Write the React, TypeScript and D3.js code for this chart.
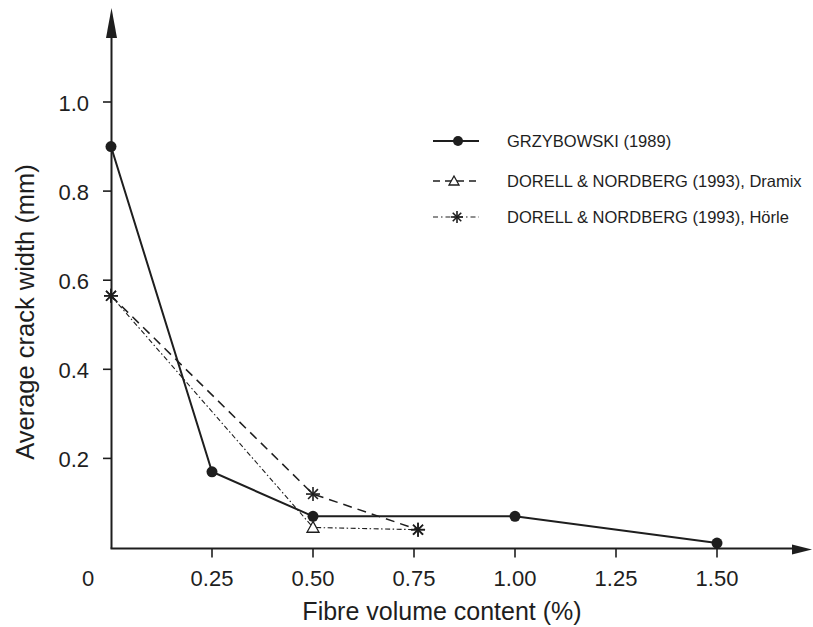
import React from "react";
import * as d3 from "d3";

// ---- data ----
const grzX = [0, 0.25, 0.5, 1.0, 1.5];
const grzY = [0.9, 0.17, 0.07, 0.07, 0.01];

const dramixX = [0, 0.5, 0.76];
const dramixY = [0.565, 0.12, 0.04];
const dramixMarks = ["star", "star", "star"];

const horleX = [0, 0.5, 0.76];
const horleY = [0.565, 0.045, 0.04];
const horleMarks = ["star", "triangle", "star"];

const xTicks = [0.25, 0.5, 0.75, 1.0, 1.25, 1.5];
const xTickLabels = ["0.25", "0.50", "0.75", "1.00", "1.25", "1.50"];
const yTicks = [0.2, 0.4, 0.6, 0.8, 1.0];
const yTickLabels = ["0.2", "0.4", "0.6", "0.8", "1.0"];

const legendLabels = [
  "GRZYBOWSKI (1989)",
  "DORELL & NORDBERG (1993), Dramix",
  "DORELL & NORDBERG (1993), Hörle",
];

const FONT = "'Liberation Sans', Arial, Helvetica, sans-serif";
const INK = "#1e1e1e";

function Star({ cx, cy, r = 7 }: { cx: number; cy: number; r?: number }) {
  const angles = [0, 45, 90, 135];
  return (
    <g stroke={INK} strokeWidth={1.6}>
      {angles.map((a) => {
        const rad = (a * Math.PI) / 180;
        const dx = Math.cos(rad) * r;
        const dy = Math.sin(rad) * r;
        return <line key={a} x1={cx - dx} y1={cy - dy} x2={cx + dx} y2={cy + dy} />;
      })}
    </g>
  );
}

function Triangle({ cx, cy, s = 6 }: { cx: number; cy: number; s?: number }) {
  const pts = `${cx},${cy - s} ${cx - s},${cy + s * 0.8} ${cx + s},${cy + s * 0.8}`;
  return <polygon points={pts} fill="white" stroke={INK} strokeWidth={1.3} />;
}

function Mark({ type, cx, cy }: { type: string; cx: number; cy: number }) {
  if (type === "star") return <Star cx={cx} cy={cy} />;
  if (type === "triangle") return <Triangle cx={cx} cy={cy} />;
  return <circle cx={cx} cy={cy} r={5.5} fill={INK} />;
}

export default function App() {
  const x = d3.scaleLinear().domain([0, 1.5]).range([111, 717]);
  const y = d3.scaleLinear().domain([0, 1]).range([547.5, 102]);
  const axisY = 548.5;
  const axisX = 111.5;

  const line = d3
    .line<[number, number]>()
    .x((d) => x(d[0]))
    .y((d) => y(d[1]));

  const grz: [number, number][] = grzX.map((v, i) => [v, grzY[i]]);
  const dramix: [number, number][] = dramixX.map((v, i) => [v, dramixY[i]]);
  const horle: [number, number][] = horleX.map((v, i) => [v, horleY[i]]);

  const legendRows = [
    { y: 141, dash: undefined as string | undefined, w: 2, mark: "circle" },
    { y: 181, dash: "7,5", w: 1.4, mark: "triangle" },
    { y: 217, dash: "5,3,1.5,3", w: 1.2, mark: "star" },
  ];

  return (
    <svg
      width={813}
      height={627}
      style={{ position: "absolute", left: 0, top: 0, background: "white" }}
      fontFamily={FONT}
    >
      <rect x={0} y={0} width={813} height={627} fill="white" />

      {/* axes */}
      <line x1={axisX} y1={axisY} x2={axisX} y2={30} stroke={INK} strokeWidth={2} />
      <polygon points={`${axisX},8 ${axisX - 5.5},38 ${axisX + 5.5},38`} fill={INK} />
      <line x1={axisX - 1} y1={axisY} x2={795} y2={axisY} stroke={INK} strokeWidth={2} />
      <polygon points={`812,${axisY + 1} 792,${axisY - 4} 792,${axisY + 6}`} fill={INK} />

      {/* y ticks */}
      {yTicks.map((t, i) => (
        <g key={"y" + t}>
          <line x1={103} x2={axisX} y1={y(t)} y2={y(t)} stroke={INK} strokeWidth={1.6} />
          <text
            x={89}
            y={y(t) + 9}
            textAnchor="end"
            fontSize={22}
            fill={INK}
          >
            {yTickLabels[i]}
          </text>
        </g>
      ))}

      {/* x ticks */}
      {xTicks.map((t, i) => (
        <g key={"x" + t}>
          <line x1={x(t)} x2={x(t)} y1={axisY} y2={axisY + 9} stroke={INK} strokeWidth={1.6} />
          <text x={x(t)} y={586} textAnchor="middle" fontSize={22} fill={INK}>
            {xTickLabels[i]}
          </text>
        </g>
      ))}
      <text x={88} y={586} textAnchor="middle" fontSize={22} fill={INK}>
        0
      </text>

      {/* axis labels */}
      <text x={442} y={620} textAnchor="middle" fontSize={25} fill={INK}>
        Fibre volume content (%)
      </text>
      <text
        transform="translate(34,312) rotate(-90)"
        textAnchor="middle"
        fontSize={25.5}
        fill={INK}
      >
        Average crack width (mm)
      </text>

      {/* series lines */}
      <path d={line(horle) || ""} fill="none" stroke={INK} strokeWidth={1.1} strokeDasharray="5,2.5,1.5,2.5" />
      <path d={line(dramix) || ""} fill="none" stroke={INK} strokeWidth={1.5} strokeDasharray="9,6" />
      <path d={line(grz) || ""} fill="none" stroke={INK} strokeWidth={2} />

      {/* markers */}
      {horle.map((d, i) => (
        <Mark key={"h" + i} type={horleMarks[i]} cx={x(d[0])} cy={y(d[1])} />
      ))}
      {dramix.map((d, i) => (
        <Mark key={"d" + i} type={dramixMarks[i]} cx={x(d[0])} cy={y(d[1])} />
      ))}
      {grz.map((d, i) => (
        <circle key={"g" + i} cx={x(d[0])} cy={y(d[1])} r={5.5} fill={INK} />
      ))}

      {/* legend */}
      {legendRows.map((r, i) => (
        <g key={"l" + i}>
          <line
            x1={433}
            x2={479}
            y1={r.y}
            y2={r.y}
            stroke={INK}
            strokeWidth={r.w}
            strokeDasharray={r.dash}
          />
          {r.mark === "circle" && <circle cx={458} cy={r.y} r={5} fill={INK} />}
          {r.mark === "triangle" && <Triangle cx={454} cy={r.y} s={5} />}
          {r.mark === "star" && <Star cx={457} cy={r.y} r={6} />}
          <text x={507} y={r.y + 6} fontSize={16.5} fill={INK}>
            {legendLabels[i]}
          </text>
        </g>
      ))}
    </svg>
  );
}
